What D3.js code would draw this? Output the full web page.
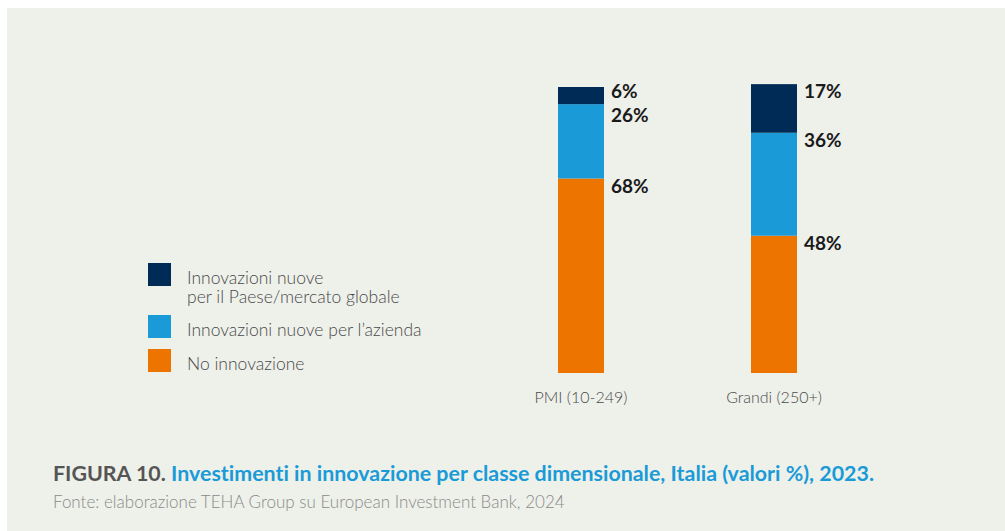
<!DOCTYPE html>
<html>
<head>
<meta charset="utf-8">
<script src="https://cdn.jsdelivr.net/npm/d3@7"></script>
<style>
  body { margin: 0; background: #fff; }
  svg { display: block; }
  text { font-family: Lato, "Noto Sans", sans-serif; font-variant-ligatures: none; }
</style>
</head>
<body>
<div id="container"></div>
<script>
const categories = ["PMI (10-249)", "Grandi (250+)"]
const seriesNames = ["No innovazione", "Innovazioni nuove per l\u2019azienda", "Innovazioni nuove per il Paese/mercato globale"]
const noInnovazione = [68, 48]
const nuoveAzienda = [26, 36]
const nuoveMercato = [6, 17]
const legendLabels = [
    ["Innovazioni nuove", "per il Paese/mercato globale"],
    ["Innovazioni nuove per l\u2019azienda"],
    ["No innovazione"]
]
const colors = ["#ee7400", "#1a9bd7", "#002b57"]

const width = 1005, height = 531

const svg = d3.select("div#container").append("svg")
    .attr("width", width)
    .attr("height", height)

// panel background
svg.append("rect")
    .attr("x", 7).attr("y", 8)
    .attr("width", width - 7).attr("height", height - 8)
    .attr("fill", "#eef0ea")

const xScale = d3.scalePoint().domain(categories).range([581, 774])
const yScale = d3.scaleLinear().domain([0, 100]).range([373, 87])
const barWidth = 46

const rows = categories.map((c, i) => ({
    cat: c,
    v0: noInnovazione[i],
    v1: nuoveAzienda[i],
    v2: nuoveMercato[i]
}))
const stacked = d3.stack().keys(["v0", "v1", "v2"])(rows)

svg.append("g").selectAll("g")
    .data(stacked)
    .join("g")
    .attr("fill", (d, i) => colors[i])
    .selectAll("rect")
    .data(d => d)
    .join("rect")
    .attr("x", d => xScale(d.data.cat) - barWidth / 2)
    .attr("y", d => yScale(d[1]))
    .attr("width", barWidth)
    .attr("height", d => yScale(d[0]) - yScale(d[1]))

// value labels next to the top of each segment, pushed apart when too close
const minGap = 24
const labels = []
categories.forEach((c, ci) => {
    const col = stacked.map((s, si) => ({
        cat: c,
        val: rows[ci]["v" + si],
        y: yScale(s[ci][1]) + 14
    })).sort((a, b) => a.y - b.y)
    for (let k = 1; k < col.length; k++) {
        const gap = col[k].y - col[k - 1].y
        if (gap < minGap) {
            const shift = (minGap - gap) / 2
            col[k - 1].y -= shift
            col[k].y += shift
        }
    }
    labels.push(...col)
})

svg.append("g").selectAll("text")
    .data(labels)
    .join("text")
    .attr("x", d => xScale(d.cat) + barWidth / 2 + 7)
    .attr("y", d => d.y)
    .attr("fill", "#1a1a1a")
    .style("font-size", "19px")
    .style("font-weight", "700")
    .text(d => d.val + "%")

// category labels
svg.append("g").selectAll("text")
    .data(categories)
    .join("text")
    .attr("x", d => xScale(d))
    .attr("y", 403)
    .attr("text-anchor", "middle")
    .attr("fill", "#4a4a4a")
    .style("font-size", "16px")
    .style("font-weight", "300")
    .text(d => d)

// legend
const legendColors = [colors[2], colors[1], colors[0]]
const legendY = [263, 315, 349]
const legend = svg.append("g").selectAll("g")
    .data(legendLabels)
    .join("g")
    .attr("transform", (d, i) => "translate(148," + legendY[i] + ")")

legend.append("rect")
    .attr("width", 23).attr("height", 23)
    .attr("fill", (d, i) => legendColors[i])

legend.append("text")
    .attr("fill", "#4a4a4a")
    .style("font-size", "17.5px")
    .style("font-weight", "300")
    .selectAll("tspan")
    .data(d => d)
    .join("tspan")
    .attr("x", 39)
    .attr("y", (d, j) => 21 + j * 19)
    .text(d => d)

// caption
const caption = svg.append("text")
    .attr("x", 53).attr("y", 481)
    .style("font-size", "21.4px")
    .style("font-weight", "700")
caption.append("tspan").attr("fill", "#555555").text("FIGURA 10. ")
caption.append("tspan").attr("fill", "#1a9bd7")
    .text("Investimenti in innovazione per classe dimensionale, Italia (valori %), 2023.")

svg.append("text")
    .attr("x", 53).attr("y", 508)
    .attr("fill", "#8a8a8a")
    .style("font-size", "17px")
    .style("font-weight", "300")
    .text("Fonte: elaborazione TEHA Group su European Investment Bank, 2024")
</script>
</body>
</html>
